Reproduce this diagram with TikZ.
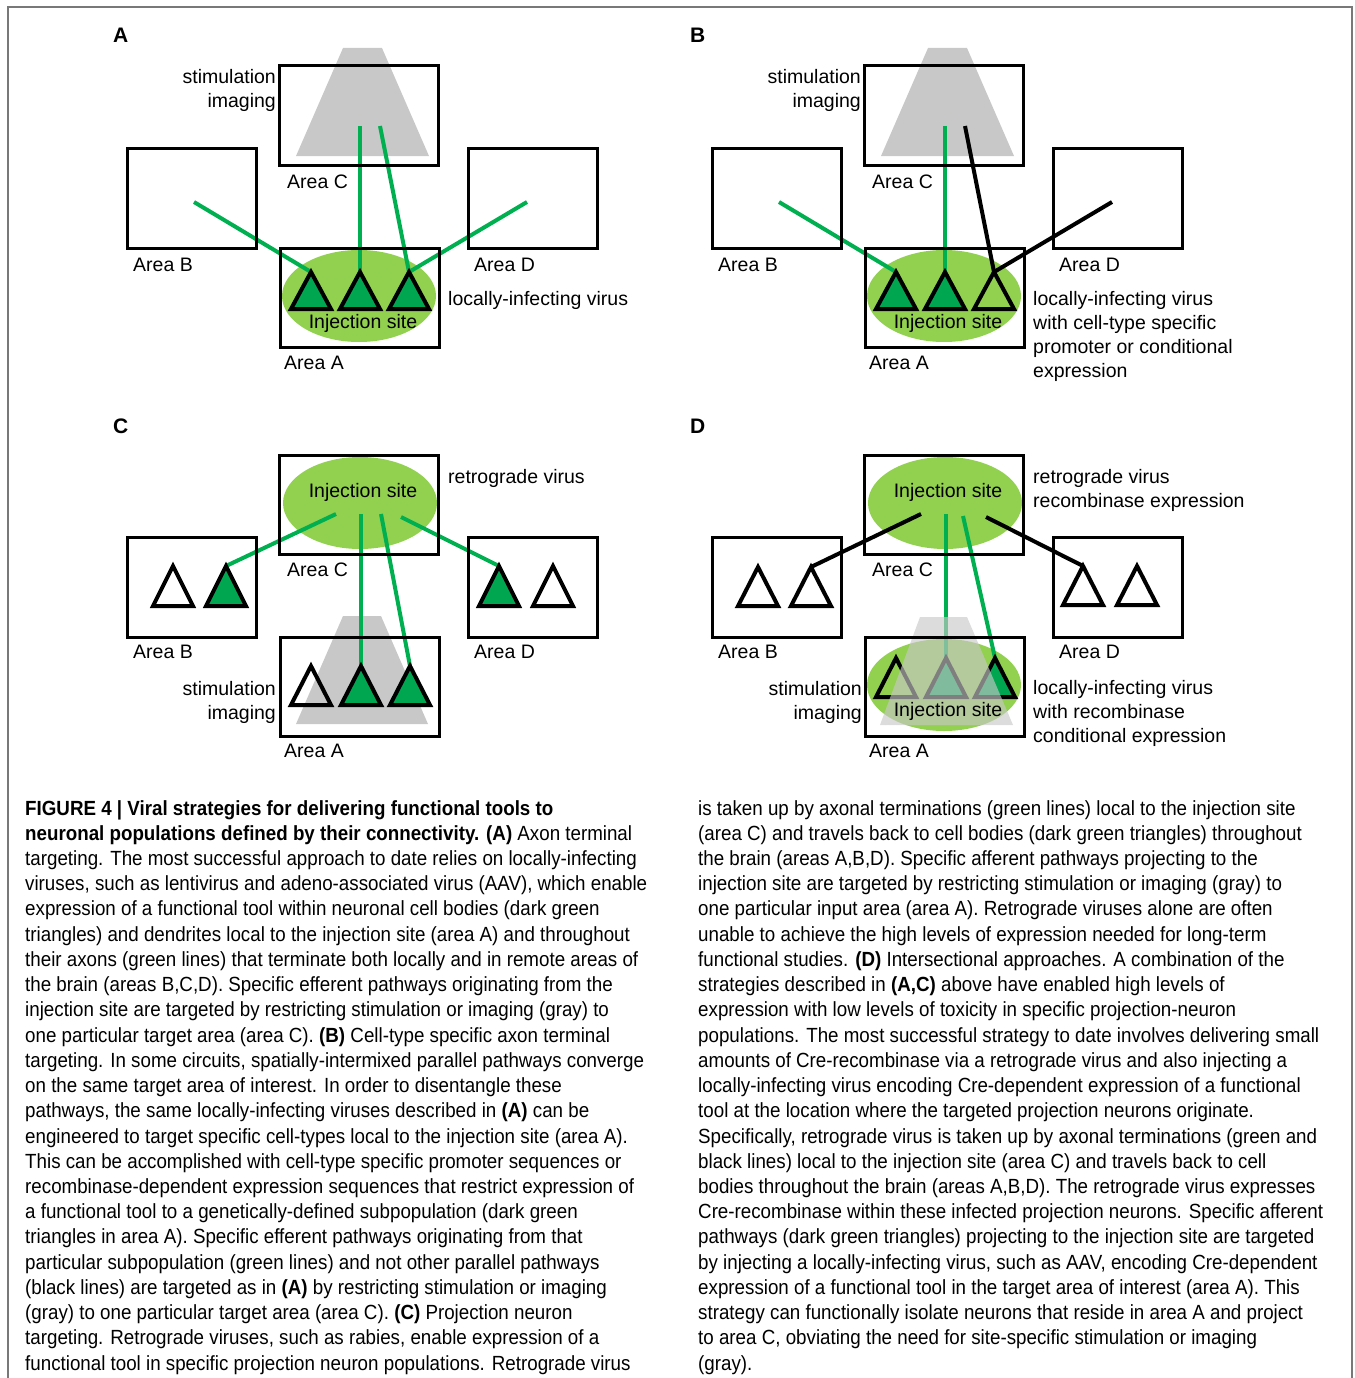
\documentclass[tikz,border=0pt]{standalone}
\usepackage{fontspec}
\setmainfont{Liberation Sans}
\newfontfamily\capfont[FakeStretch=0.915]{Liberation Sans}
\usetikzlibrary{shapes.geometric}

\definecolor{axongreen}{RGB}{0,176,80}
\definecolor{somagreen}{RGB}{0,166,80}
\definecolor{sitegreen}{RGB}{146,208,80}
\definecolor{beamgray}{RGB}{200,200,200}
\definecolor{framegray}{RGB}{120,120,120}

% cell body: apex, height
\newcommand{\soma}[3][]{\draw[cell,#1] (#2) -- ++(-20,#3) -- ++(40,0) -- cycle;}

\begin{document}
\begin{tikzpicture}[x=1pt,y=-1pt,
	area/.style={draw,line width=3pt,minimum width=159pt,minimum height=99pt,inner sep=0},
	sidearea/.style={area,minimum width=129pt,minimum height=100pt},
	site/.style={ellipse,fill=sitegreen,minimum width=154pt,minimum height=92pt,inner sep=0},
	beam/.style={fill=beamgray},
	axon/.style={line width=4pt,axongreen},
	other/.style={line width=4pt,black},
	cell/.style={line width=4pt},
	lbl/.style={font=\fontsize{19.5}{24}\selectfont,inner sep=0,anchor=base west,align=left},
	rlbl/.style={lbl,anchor=base east,align=right},
	clbl/.style={lbl,anchor=base},
	panel/.style={font=\bfseries\fontsize{21}{24}\selectfont,inner sep=0,anchor=base west},
	capline/.style={font=\capfont\fontsize{20.5}{25}\selectfont,inner sep=0,anchor=base west}]

	\useasboundingbox (0,0) rectangle (1354,1378);
	\draw[framegray,line width=1.5pt] (8,1378) -- (8,7) -- (1352,7) -- (1352,1378);

	% A
	\node[panel] (pA) at (113,43) {A};
	\fill[beam] (343,48) -- (382,48) -- (429,156) -- (296,156) -- cycle;
	\node[site] (aSite) at (359,296) {};
	\coordinate (aBt) at (194,202);
	\coordinate (aCt) at (360,126);
	\coordinate (aCu) at (380,126);
	\coordinate (aDt) at (527,202);
	\coordinate (aN1) at (311,272);
	\coordinate (aN2) at (360,272);
	\coordinate (aN3) at (409,272);
	\draw[axon] (aBt) -- (aN1);
	\draw[axon] (aCt) -- (aN2);
	\draw[axon] (aCu) -- (aN3);
	\draw[axon] (aDt) -- (aN3);
	\soma[fill=somagreen]{aN1}{37}
	\soma[fill=somagreen]{aN2}{37}
	\soma[fill=somagreen]{aN3}{37}
	\node[area] (aC) at (358.5,115.5) {};
	\node[sidearea] (aB) at (191.5,198) {};
	\node[sidearea] (aD) at (533,198) {};
	\node[area] (aA) at (359.5,297.5) {};
	\node[rlbl] at (276,108) {stimulation\\imaging};
	\node[lbl] at (287,188) {Area C};
	\node[lbl] at (133,271) {Area B};
	\node[lbl] at (474,271) {Area D};
	\node[lbl] at (284,369) {Area A};
	\node[clbl] at (363,328) {Injection site};
	\node[lbl] at (448,305) {locally-infecting virus};

	% B
	\node[panel] (pB) at (690,43) {B};
	\begin{scope}[shift={(585,0)}]
		\fill[beam] (343,48) -- (382,48) -- (429,156) -- (296,156) -- cycle;
		\node[site] (bSite) at (359,296) {};
		\coordinate (bBt) at (194,202);
		\coordinate (bCt) at (360,126);
		\coordinate (bCu) at (380,126);
		\coordinate (bDt) at (527,202);
		\coordinate (bN1) at (311,272);
		\coordinate (bN2) at (360,272);
		\coordinate (bN3) at (409,272);
		\draw[axon] (bBt) -- (bN1);
		\draw[axon] (bCt) -- (bN2);
		\draw[other] (bCu) -- (bN3);
		\draw[other] (bDt) -- (bN3);
		\soma[fill=somagreen]{bN1}{37}
		\soma[fill=somagreen]{bN2}{37}
		\soma{bN3}{37}
		\node[area] (bC) at (358.5,115.5) {};
		\node[sidearea] (bB) at (191.5,198) {};
		\node[sidearea] (bD) at (533,198) {};
		\node[area] (bA) at (359.5,297.5) {};
		\node[rlbl] at (276,108) {stimulation\\imaging};
		\node[lbl] at (287,188) {Area C};
		\node[lbl] at (133,271) {Area B};
		\node[lbl] at (474,271) {Area D};
		\node[lbl] at (284,369) {Area A};
		\node[clbl] at (363,328) {Injection site};
		\node[lbl] at (448,377) {locally-infecting virus\\with cell-type specific\\promoter or conditional\\expression};
	\end{scope}

	% C
	\node[panel] (pC) at (113,433) {C};
	\begin{scope}[shift={(0,389)}]
		\fill[beam] (343,227) -- (381,227) -- (428,335) -- (296,335) -- cycle;
		\node[site] (cSite) at (360,114) {};
		\coordinate (cBt) at (336,125);
		\coordinate (cCt) at (361,125);
		\coordinate (cCu) at (381,125);
		\coordinate (cDt) at (401,128);
		\coordinate (cB1) at (173,177);
		\coordinate (cB2) at (226,177);
		\coordinate (cD1) at (499,177);
		\coordinate (cD2) at (553,177);
		\coordinate (cN1) at (311,277);
		\coordinate (cN2) at (361,277);
		\coordinate (cN3) at (410,277);
		\draw[axon] (cBt) -- (cB2);
		\draw[axon] (cCt) -- (cN2);
		\draw[axon] (cCu) -- (cN3);
		\draw[axon] (cDt) -- (cD1);
		\soma{cB1}{40}
		\soma[fill=somagreen]{cB2}{40}
		\soma[fill=somagreen]{cD1}{40}
		\soma{cD2}{40}
		\soma{cN1}{39}
		\soma[fill=somagreen]{cN2}{39}
		\soma[fill=somagreen]{cN3}{39}
		\node[area] (cC) at (358.5,115.5) {};
		\node[sidearea] (cB) at (191.5,198) {};
		\node[sidearea] (cD) at (533,198) {};
		\node[area] (cA) at (359.5,297.5) {};
		\node[clbl] at (363,108) {Injection site};
		\node[lbl] at (448,94) {retrograde virus};
		\node[lbl] at (287,187) {Area C};
		\node[lbl] at (133,269) {Area B};
		\node[lbl] at (474,269) {Area D};
		\node[lbl] at (284,368) {Area A};
		\node[rlbl] at (276,330) {stimulation\\imaging};
	\end{scope}

	% D
	\node[panel] (pD) at (690,433) {D};
	\begin{scope}[shift={(585,389)}]
		\node[site] (dSite) at (360,114) {};
		\node[site] (dSiteA) at (359,296) {};
		\coordinate (dBt) at (336,125);
		\coordinate (dCt) at (361,125);
		\coordinate (dCu) at (378,127);
		\coordinate (dDt) at (401,128);
		\coordinate (dB1) at (173,178);
		\coordinate (dB2) at (226,178);
		\coordinate (dD1) at (498,177);
		\coordinate (dD2) at (552,177);
		\coordinate (dN1) at (311,269);
		\coordinate (dN2) at (361,269);
		\coordinate (dN3) at (410,269);
		\draw[other] (dBt) -- (dB2);
		\draw[axon] (dCt) -- (dN2);
		\draw[axon] (dCu) -- (dN3);
		\draw[other] (dDt) -- (dD1);
		\soma{dB1}{39}
		\soma{dB2}{39}
		\soma{dD1}{39}
		\soma{dD2}{39}
		\soma{dN1}{39}
		\soma[fill=somagreen]{dN2}{39}
		\soma[fill=somagreen]{dN3}{39}
		\fill[beam,opacity=0.64] (335,228) -- (382,228) -- (428,336) -- (295,336) -- cycle;
		\node[area] (dC) at (358.5,115.5) {};
		\node[sidearea] (dB) at (191.5,198) {};
		\node[sidearea] (dD) at (533,198) {};
		\node[area] (dA) at (359.5,297.5) {};
		\node[clbl] at (363,108) {Injection site};
		\node[clbl] at (363,327) {Injection site};
		\node[lbl] at (448,118) {retrograde virus\\recombinase expression};
		\node[lbl] at (287,187) {Area C};
		\node[lbl] at (133,269) {Area B};
		\node[lbl] at (474,269) {Area D};
		\node[lbl] at (284,368) {Area A};
		\node[rlbl] at (277,330) {stimulation\\imaging};
		\node[lbl] at (448,353) {locally-infecting virus\\with recombinase\\conditional expression};
	\end{scope}

	% caption
	\foreach \ln [count=\i] in {
		{\textbf{FIGURE 4 | Viral strategies for delivering functional tools to}},
		{\textbf{neuronal populations defined by their connectivity. (A)} Axon terminal},
		{targeting. The most successful approach to date relies on locally-infecting},
		{viruses, such as lentivirus and adeno-associated virus (AAV), which enable},
		{expression of a functional tool within neuronal cell bodies (dark green},
		{triangles) and dendrites local to the injection site (area A) and throughout},
		{their axons (green lines) that terminate both locally and in remote areas of},
		{the brain (areas B,C,D). Specific efferent pathways originating from the},
		{injection site are targeted by restricting stimulation or imaging (gray) to},
		{one particular target area (area C). \textbf{(B)} Cell-type specific axon terminal},
		{targeting. In some circuits, spatially-intermixed parallel pathways converge},
		{on the same target area of interest. In order to disentangle these},
		{pathways, the same locally-infecting viruses described in \textbf{(A)} can be},
		{engineered to target specific cell-types local to the injection site (area A).},
		{This can be accomplished with cell-type specific promoter sequences or},
		{recombinase-dependent expression sequences that restrict expression of},
		{a functional tool to a genetically-defined subpopulation (dark green},
		{triangles in area A). Specific efferent pathways originating from that},
		{particular subpopulation (green lines) and not other parallel pathways},
		{(black lines) are targeted as in \textbf{(A)} by restricting stimulation or imaging},
		{(gray) to one particular target area (area C). \textbf{(C)} Projection neuron},
		{targeting. Retrograde viruses, such as rabies, enable expression of a},
		{functional tool in specific projection neuron populations. Retrograde virus}}
		\node[capline] (capL\i) at (25,{815+25.23*(\i-1)}) {\ln};

	\foreach \ln [count=\i] in {
		{is taken up by axonal terminations (green lines) local to the injection site},
		{(area C) and travels back to cell bodies (dark green triangles) throughout},
		{the brain (areas A,B,D). Specific afferent pathways projecting to the},
		{injection site are targeted by restricting stimulation or imaging (gray) to},
		{one particular input area (area A). Retrograde viruses alone are often},
		{unable to achieve the high levels of expression needed for long-term},
		{functional studies. \textbf{(D)} Intersectional approaches. A combination of the},
		{strategies described in \textbf{(A,C)} above have enabled high levels of},
		{expression with low levels of toxicity in specific projection-neuron},
		{populations. The most successful strategy to date involves delivering small},
		{amounts of Cre-recombinase via a retrograde virus and also injecting a},
		{locally-infecting virus encoding Cre-dependent expression of a functional},
		{tool at the location where the targeted projection neurons originate.},
		{Specifically, retrograde virus is taken up by axonal terminations (green and},
		{black lines) local to the injection site (area C) and travels back to cell},
		{bodies throughout the brain (areas A,B,D). The retrograde virus expresses},
		{Cre-recombinase within these infected projection neurons. Specific afferent},
		{pathways (dark green triangles) projecting to the injection site are targeted},
		{by injecting a locally-infecting virus, such as AAV, encoding Cre-dependent},
		{expression of a functional tool in the target area of interest (area A). This},
		{strategy can functionally isolate neurons that reside in area A and project},
		{to area C, obviating the need for site-specific stimulation or imaging},
		{(gray).}}
		\node[capline] (capR\i) at (698,{815+25.23*(\i-1)}) {\ln};
\end{tikzpicture}
\end{document}
